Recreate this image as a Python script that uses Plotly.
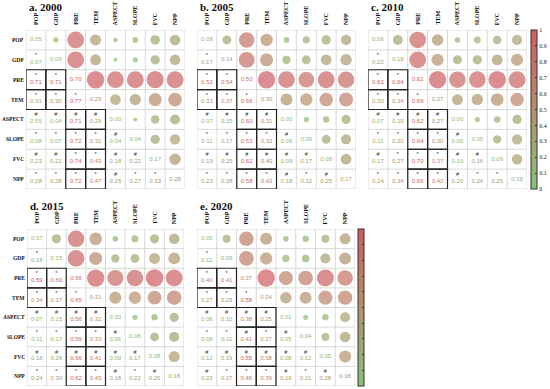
import math
import plotly.graph_objects as go

VARS = ["POP", "GDP", "PRE", "TEM", "ASPECT", "SLOPE", "FVC", "NPP"]
TITLES = ["a. 2000", "b. 2005", "c. 2010", "d. 2015", "e. 2020"]

# lower triangle (incl. diagonal), row by row
R2000 = [[0.05], [0.07, 0.04], [0.71, 0.71, 0.70], [0.31, 0.30, 0.77, 0.29],
         [0.05, 0.04, 0.71, 0.29, 0.00], [0.08, 0.07, 0.72, 0.32, 0.04, 0.04],
         [0.23, 0.22, 0.74, 0.43, 0.18, 0.22, 0.17],
         [0.28, 0.28, 0.72, 0.47, 0.25, 0.27, 0.33, 0.28]]
R2005 = [[0.08], [0.17, 0.14], [0.52, 0.54, 0.50], [0.33, 0.37, 0.66, 0.30],
         [0.07, 0.15, 0.60, 0.31, 0.00], [0.11, 0.17, 0.53, 0.33, 0.06, 0.06],
         [0.19, 0.25, 0.62, 0.40, 0.09, 0.17, 0.08],
         [0.23, 0.28, 0.58, 0.43, 0.18, 0.22, 0.25, 0.17]]
R2010 = [[0.06], [0.22, 0.19], [0.63, 0.64, 0.62], [0.30, 0.34, 0.69, 0.27],
         [0.07, 0.19, 0.62, 0.27, 0.00], [0.11, 0.20, 0.64, 0.30, 0.06, 0.05],
         [0.17, 0.27, 0.70, 0.37, 0.10, 0.16, 0.09],
         [0.24, 0.34, 0.66, 0.42, 0.20, 0.24, 0.25, 0.19]]
R2015 = [[0.07], [0.18, 0.15], [0.59, 0.60, 0.56], [0.34, 0.37, 0.65, 0.31],
         [0.07, 0.15, 0.56, 0.32, 0.00], [0.11, 0.17, 0.59, 0.33, 0.06, 0.06],
         [0.18, 0.26, 0.66, 0.41, 0.09, 0.17, 0.08],
         [0.24, 0.30, 0.62, 0.45, 0.18, 0.22, 0.26, 0.18]]
R2020 = [[0.05], [0.12, 0.09], [0.40, 0.41, 0.37], [0.27, 0.29, 0.58, 0.24],
         [0.06, 0.10, 0.38, 0.25, 0.01], [0.08, 0.11, 0.41, 0.27, 0.05, 0.04],
         [0.12, 0.19, 0.55, 0.38, 0.08, 0.12, 0.05],
         [0.23, 0.27, 0.46, 0.39, 0.19, 0.21, 0.28, 0.18]]

# significance markers for off-diagonal lower cells, row by row
S2000 = ["", "*", "**", "***", "####", "****#", "##**##", "****#**"]
S2005 = ["", "*", "**", "***", "####", "****#", "######", "****#*#"]
S2010 = ["", "*", "**", "***", "####", "****#", "#***##", "****#**"]
S2015 = ["", "*", "**", "***", "####", "****#", "######", "****#*#"]
S2020 = ["", "*", "**", "***", "####", "**#*#", "######", "#***#*#"]

DATA = [R2000, R2005, R2010, R2015, R2020]
SIGS = [S2000, S2005, S2010, S2015, S2020]

CB_TICKS = [0, 0.1, 0.2, 0.3, 0.4, 0.5, 0.6, 0.7, 0.8, 0.9, 1]
CB_TEXT = ["0", "0.1", "0.2", "0.3", "0.4", "0.5", "0.6", "0.7", "0.8", "0.9", "1"]

W, H = 550, 389
STOPS = [(0.0, (136, 194, 118)), (0.5, (180, 144, 108)), (1.0, (206, 92, 98))]
CSCALE = [[s, "rgb(%d,%d,%d)" % c] for s, c in STOPS]


def col(t):
    t = max(0.0, min(1.0, t))
    for (s0, c0), (s1, c1) in zip(STOPS[:-1], STOPS[1:]):
        if t <= s1:
            f = (t - s0) / (s1 - s0)
            return "rgb(%d,%d,%d)" % tuple(round(a + (b - a) * f) for a, b in zip(c0, c1))
    return CSCALE[-1][1]


# panel pixel boxes: x0, x1, y0, y1, row labels?, colorbar
PANELS = [
    (26, 185, 30, 189, True, None),
    (197, 356, 30, 189, False, None),
    (368, 527, 30, 189, False, "top"),
    (27, 184, 229, 386, True, None),
    (197, 355, 229, 386, False, "bottom"),
]

fig = go.Figure()
shapes, annots = [], []
SERIF = "Liberation Serif"
SANS = "Liberation Sans"

for p, (x0, x1, y0, y1, rowlab, cb) in enumerate(PANELS):
    k = p + 1
    xa, ya = "x%d" % k, "y%d" % k
    R, S = DATA[p], SIGS[p]
    vmax = max(max(r) for r in R)
    fig.layout["xaxis%d" % k] = dict(domain=[x0 / W, x1 / W], range=[-0.5, 7.5], visible=False,
                                     fixedrange=True, anchor=ya)
    fig.layout["yaxis%d" % k] = dict(domain=[1 - y1 / H, 1 - y0 / H], range=[7.5, -0.5], visible=False,
                                     fixedrange=True, anchor=xa)
    # grid
    for g in range(9):
        shapes.append(dict(type="line", xref=xa, yref=ya, x0=g - 0.5, x1=g - 0.5, y0=-0.5, y1=7.5,
                           line=dict(color="#cfcfcf", width=0.8), layer="below"))
        shapes.append(dict(type="line", xref=xa, yref=ya, y0=g - 0.5, y1=g - 0.5, x0=-0.5, x1=7.5,
                           line=dict(color="#cfcfcf", width=0.8), layer="below"))
    # bold boxes
    boxes = [(i, j) for i in (2, 3) for j in (0, 1)] + [(i, j) for i in (4, 5, 6, 7) for j in (2, 3)]
    for i, j in boxes:
        shapes.append(dict(type="rect", xref=xa, yref=ya, x0=j - 0.5, x1=j + 0.5, y0=i - 0.5, y1=i + 0.5,
                           line=dict(color="#222", width=1.2)))
    # circles (upper triangle mirror)
    cx, cy, cs, cc = [], [], [], []
    for i in range(8):
        for j in range(i + 1, 8):
            v = R[j][i]
            t = v / vmax
            cx.append(j); cy.append(i)
            cs.append(max(3.5, 17.5 * math.sqrt(t)))
            cc.append(t)
    marker = dict(size=cs, color=cc, colorscale=CSCALE, cmin=0, cmax=1, line=dict(width=0))
    if cb:
        marker["showscale"] = True
        marker["colorbar"] = dict(
            x=(531 if cb == "top" else 358) / W, xanchor="left", xpad=0, ypad=0,
            y=1 - (y0 + y1) / 2 / H, yanchor="middle", len=(y1 - y0), lenmode="pixels",
            thickness=6, thicknessmode="pixels", outlinewidth=1, outlinecolor="#333",
            tickvals=CB_TICKS, ticktext=CB_TEXT, ticks="inside", ticklen=2, tickcolor="#333",
            showticklabels=(cb == "top"), tickfont=dict(family=SERIF, size=6, color="#222"))
    fig.add_trace(go.Scatter(x=cx, y=cy, mode="markers", marker=marker, xaxis=xa, yaxis=ya,
                             hoverinfo="skip", showlegend=False))
    # numbers
    nx, ny, nt, ncol = [], [], [], []
    mx, my, mt = [], [], []
    for i in range(8):
        for j in range(i + 1):
            v = R[i][j]
            nx.append(j); ny.append(i + (0.12 if j < i else 0)); nt.append("%.2f" % v)
            ncol.append(col(v / vmax))
            if j < i:
                mx.append(j); my.append(i - 0.22); mt.append(S[i][j])
    fig.add_trace(go.Scatter(x=nx, y=ny, mode="text", text=nt, textposition="middle center",
                             textfont=dict(family=SANS, size=6, color=ncol), xaxis=xa, yaxis=ya,
                             hoverinfo="skip", showlegend=False))
    fig.add_trace(go.Scatter(x=mx, y=my, mode="text", text=mt, textposition="middle center",
                             textfont=dict(family=SANS, size=5.5, color="#333"), xaxis=xa, yaxis=ya,
                             hoverinfo="skip", showlegend=False))
    # labels
    for c, name in enumerate(VARS):
        annots.append(dict(text="<b>%s</b>" % name, xref=xa, yref="paper", x=c, y=1 - (y0 - 3) / H,
                           xanchor="center", yanchor="bottom", textangle=-90, showarrow=False,
                           font=dict(family=SERIF, size=6, color="#111")))
        if rowlab:
            annots.append(dict(text="<b>%s</b>" % name, xref="paper", yref=ya, x=(x0 - 1) / W, y=c,
                               xanchor="right", yanchor="middle", showarrow=False, xshift=0,
                               borderpad=0, font=dict(family=SERIF, size=5.5, color="#111")))
    annots.append(dict(text="<b>%s</b>" % TITLES[p], xref="paper", yref="paper", x=(x0 + 1) / W,
                       y=1 - (y0 - 23) / H, xanchor="left", yanchor="middle", showarrow=False,
                       font=dict(family=SERIF, size=11, color="#111")))

fig.update_layout(width=W, height=H, margin=dict(l=0, r=0, t=0, b=0),
                  paper_bgcolor="white", plot_bgcolor="white", shapes=shapes, annotations=annots)
fig.write_html("out.html", config={"displayModeBar": False},
               post_script="document.body.style.margin='0';document.body.style.overflow='hidden';")
